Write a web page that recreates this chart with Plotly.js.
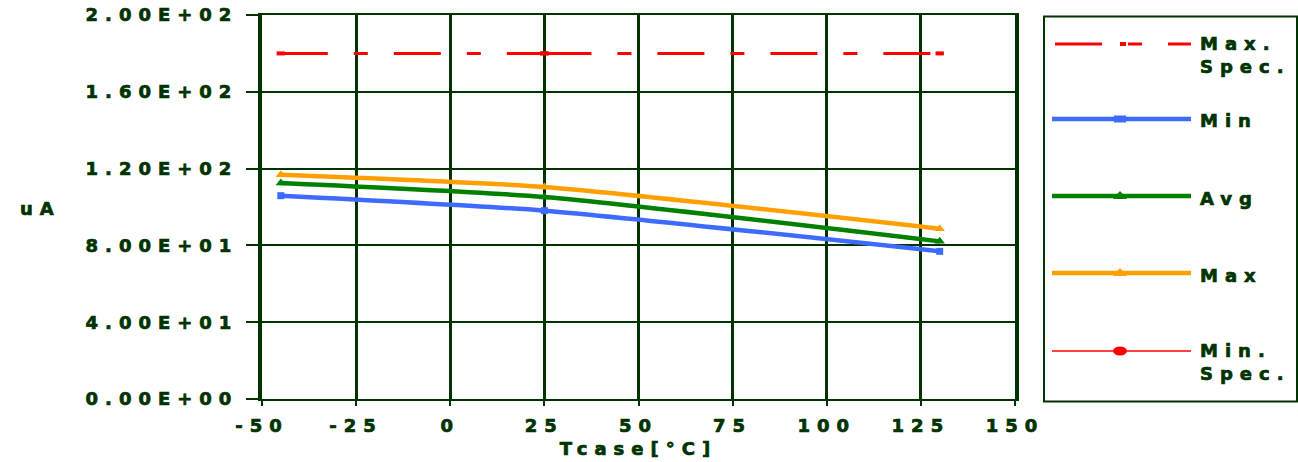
<!DOCTYPE html>
<html>
<head>
<meta charset="utf-8">
<script src="https://cdn.plot.ly/plotly-3.0.1.min.js"></script>
<style>
  html, body { margin: 0; padding: 0; background: #fff; }
  #chart { width: 1298px; height: 462px; }
  .xtick text, .ytick text, .g-xtitle text, text.annotation-text {
    letter-spacing: 7px; stroke: #003300; stroke-width: 0.7px;
  }
</style>
</head>
<body>
<div id="chart"></div>
<script>
// ---- data ----
const temps = [-45, 25, 130];
const minVals = [105.9, 98.1, 76.9];
const avgVals = [112.5, 105.2, 82.1];
const maxVals = [116.8, 110.4, 88.7];
const specTemps = [-45, 25, 130];
const maxSpecVals = [180, 180, 180];
const xTickVals = [-50, -25, 0, 25, 50, 75, 100, 125, 150];
const yTickVals = [0, 40, 80, 120, 160, 200];
const yTickText = ['0.00E+00', '4.00E+01', '8.00E+01', '1.20E+02', '1.60E+02', '2.00E+02'];
const seriesNames = ['Max.<br>Spec.', 'Min', 'Avg', 'Max', 'Min.<br>Spec.'];

// ---- styles ----
const DARK = '#003300';
const RED = '#ff0000', BLUE = '#3d6bff', GREEN = '#008000', ORANGE = '#ffa000';
const SPEC_DASH = '47px,26px,14px,26px';
const FONT = { family: 'DejaVu Sans', size: 18, weight: 'bold', color: DARK };

const traces = [];
// Max spec: one trace per segment so the dash pattern restarts at each point
for (let i = 0; i < specTemps.length - 1; i++) {
  traces.push({
    type: 'scatter', mode: 'lines+markers', name: 'Max. Spec.',
    x: specTemps.slice(i, i + 2), y: maxSpecVals.slice(i, i + 2),
    line: { color: RED, width: 3, dash: SPEC_DASH },
    marker: { symbol: 'line-ew', size: 6, line: { color: RED, width: 4 } },
    showlegend: false, hoverinfo: 'x+y'
  });
}
const dataSeries = [
  { name: 'Min', y: minVals, color: BLUE, symbol: 'square', size: 7 },
  { name: 'Avg', y: avgVals, color: GREEN, symbol: 'triangle-up', size: 9 },
  { name: 'Max', y: maxVals, color: ORANGE, symbol: 'triangle-up', size: 9 }
];
dataSeries.forEach(s => traces.push({
  type: 'scatter', mode: 'lines+markers', name: s.name,
  x: temps, y: s.y,
  line: { color: s.color, width: 4.5, shape: 'spline', smoothing: 0.6 },
  marker: { symbol: s.symbol, size: s.size, color: s.color },
  showlegend: false
}));

// ---- manual legend (pixel -> paper helpers) ----
const L = 262, R = 1015, T = 15, B = 399;
const px = x => (x - L) / (R - L);
const py = y => (B - y) / (B - T);
const legendY = [44, 119, 196, 273, 351];
const legendStyles = [
  { color: RED, width: 3, dash: SPEC_DASH, marker: 'dash' },
  { color: BLUE, width: 4.5, dash: 'solid', marker: 'square' },
  { color: GREEN, width: 4.5, dash: 'solid', marker: 'triangle' },
  { color: ORANGE, width: 4.5, dash: 'solid', marker: 'triangle' },
  { color: RED, width: 1.5, dash: 'solid', marker: 'circle' }
];
const shapes = [{
  type: 'rect', xref: 'paper', yref: 'paper',
  x0: px(1044), x1: px(1297), y0: py(16.5), y1: py(401.5),
  line: { color: DARK, width: 2 }, fillcolor: 'rgba(0,0,0,0)'
}];
const annotations = [];
seriesNames.forEach((name, i) => {
  const st = legendStyles[i], y = legendY[i];
  const x0 = i === 0 ? 1055 : 1052;
  shapes.push({ type: 'line', xref: 'paper', yref: 'paper',
    x0: px(x0), x1: px(1191), y0: py(y), y1: py(y),
    line: { color: st.color, width: st.width, dash: st.dash } });
  const mx = 1120;
  if (st.marker === 'square') {
    shapes.push({ type: 'rect', xref: 'paper', yref: 'paper',
      x0: px(mx - 6), x1: px(mx + 6), y0: py(y - 3.5), y1: py(y + 3.5),
      line: { width: 0 }, fillcolor: st.color });
  } else if (st.marker === 'triangle') {
    shapes.push({ type: 'path', xref: 'paper', yref: 'paper',
      path: `M ${px(mx - 7)} ${py(y + 3)} L ${px(mx)} ${py(y - 5)} L ${px(mx + 7)} ${py(y + 3)} Z`,
      line: { width: 0 }, fillcolor: st.color });
  } else if (st.marker === 'circle') {
    shapes.push({ type: 'circle', xref: 'paper', yref: 'paper',
      x0: px(mx - 7), x1: px(mx + 7), y0: py(y - 4.5), y1: py(y + 4.5),
      line: { width: 0 }, fillcolor: st.color });
  } else if (st.marker === 'dash') {
    shapes.push({ type: 'rect', xref: 'paper', yref: 'paper',
      x0: px(mx), x1: px(mx + 6), y0: py(y - 2), y1: py(y + 2),
      line: { width: 0 }, fillcolor: st.color });
  }
  const twoLine = name.indexOf('<br>') >= 0;
  annotations.push({
    xref: 'paper', yref: 'paper', x: px(1199), y: twoLine ? py(y - 12) : py(y + 2),
    xanchor: 'left', yanchor: twoLine ? 'top' : 'middle', align: 'left',
    text: name, showarrow: false, borderpad: 0, font: FONT
  });
});
annotations.push({
  xref: 'paper', yref: 'paper', x: px(40), y: py(208), xanchor: 'center', yanchor: 'middle',
  text: 'uA', showarrow: false, borderpad: 0, font: FONT
});

const layout = {
  width: 1298, height: 462,
  margin: { l: L, r: 1298 - R, t: T, b: 462 - B, pad: 0 },
  paper_bgcolor: '#ffffff', plot_bgcolor: '#ffffff',
  showlegend: false,
  xaxis: {
    range: [-50, 150], tickvals: xTickVals, ticktext: xTickVals.map(String),
    showgrid: true, gridcolor: DARK, gridwidth: 3, zeroline: false,
    showline: true, mirror: true, linecolor: DARK, linewidth: 2,
    ticks: 'outside', ticklen: 5, tickwidth: 2, tickcolor: DARK,
    tickfont: FONT, ticklabelstandoff: 4,
    title: { text: 'Tcase[°C]', font: FONT, standoff: 8 }
  },
  yaxis: {
    range: [0, 200], tickvals: yTickVals, ticktext: yTickText,
    showgrid: true, gridcolor: DARK, gridwidth: 2, zeroline: false,
    showline: true, mirror: true, linecolor: DARK, linewidth: 4,
    ticks: 'outside', ticklen: 12, tickwidth: 2, tickcolor: DARK,
    tickfont: FONT, ticklabelstandoff: 4
  },
  shapes: shapes, annotations: annotations
};

Plotly.newPlot('chart', traces, layout, { staticPlot: true, displayModeBar: false });
</script>
</body>
</html>
